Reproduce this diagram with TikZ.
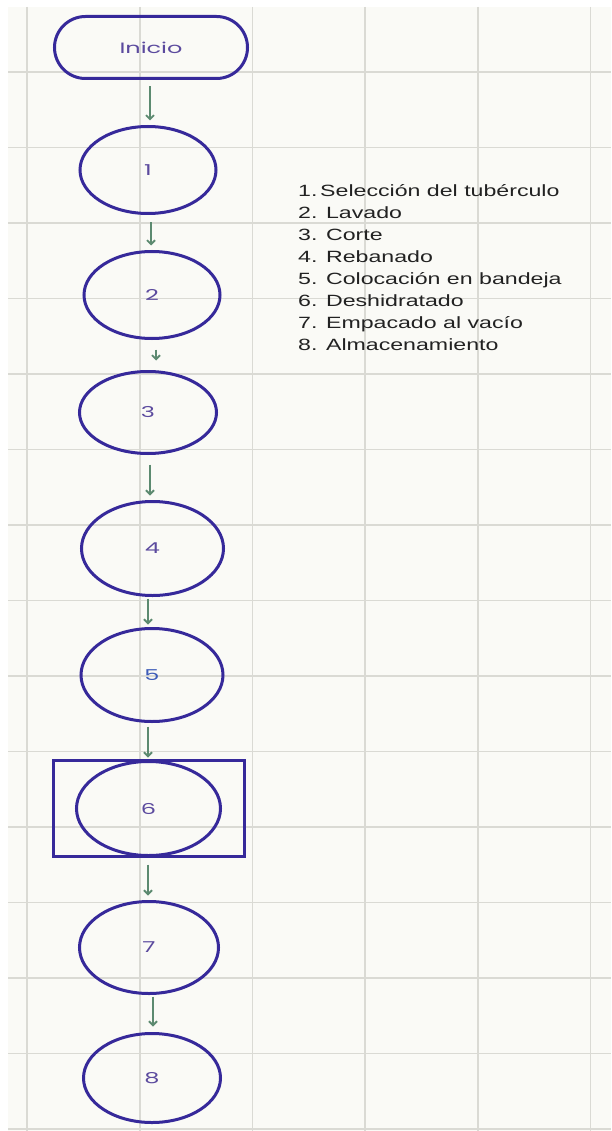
\documentclass[tikz,border=0pt]{standalone}
\usepackage{fontspec}
\setmainfont{Liberation Sans}
\newfontfamily\listfont[FakeStretch=1.42]{Liberation Sans}
\newfontfamily\lblfont[FakeStretch=1.6]{Poppins}
\usetikzlibrary{arrows.meta,shapes.geometric}
\definecolor{outl}{HTML}{36299A}
\definecolor{lblc}{HTML}{5B4A9E}
\definecolor{lblblue}{HTML}{3D5CB8}
\definecolor{arrc}{HTML}{5C8A70}
\definecolor{bgc}{HTML}{FAFAF6}
\definecolor{gridc}{HTML}{DADAD4}
\definecolor{listc}{HTML}{222222}
\begin{document}
\begin{tikzpicture}[x=1pt,y=-1pt,
  gridl/.style={draw=gridc,line width=1.2pt},
  proc/.style={ellipse,draw=outl,line width=3pt,inner sep=0pt,text=lblc,
    font=\lblfont\fontsize{15}{17}\selectfont},
  term/.style={rectangle,rounded corners=31pt,draw=outl,line width=3pt,inner sep=0pt,
    text=lblc,font=\lblfont\fontsize{15}{17}\selectfont},
  boxed/.style={rectangle,draw=outl,line width=3pt,inner sep=0pt},
  arr/.style={draw=arrc,line width=1.8pt,-{Straight Barb[length=4pt,width=8pt]}},
  item/.style={anchor=base west,inner sep=0pt,text=listc,
    font=\listfont\fontsize{16.3}{20}\selectfont}]
\useasboundingbox (0,0) rectangle (611,1131);
\fill[white] (0,0) rectangle (611,1131);
\fill[bgc] (8,7) rectangle (611,1131);
\foreach \x in {27,140,252.5,365,478,590.5}
  \draw[gridl] (\x,7) -- (\x,1131);
\foreach \k in {0,...,14}
  \draw[gridl] (8,72+75.5*\k) -- (611,72+75.5*\k);

\node[term,minimum width=193pt,minimum height=62pt] (ini) at (151,47.5) {Inicio};
\node[proc,minimum width=136pt,minimum height=87pt] (e1) at (148,170) {1};
\node[proc,minimum width=136pt,minimum height=87pt] (e2) at (152,295) {2};
\node[proc,minimum width=137pt,minimum height=82pt] (e3) at (148,412.5) {3};
\node[proc,minimum width=142pt,minimum height=94pt] (e4) at (152.5,548.5) {4};
\node[proc,minimum width=142pt,minimum height=93pt,text=lblblue] (e5) at (152,675) {5};
\node[boxed,minimum width=191pt,minimum height=96pt] (r6) at (149,808.5) {};
\node[proc,minimum width=144pt,minimum height=94pt] (e6) at (148.5,808.5) {6};
\node[proc,minimum width=139pt,minimum height=92pt] (e7) at (149,947.5) {7};
\node[proc,minimum width=137pt,minimum height=89pt] (e8) at (152,1078) {8};

\draw[arr] ([shift={(-1,6.5)}]ini.south) -- ([shift={(2,-4.5)}]e1.north);
\draw[arr] ([shift={(3,7.5)}]e1.south) -- ([shift={(-1,-4.5)}]e2.north);
\draw[arr] ([shift={(4,9.5)}]e2.south) -- ([shift={(8,-9.5)}]e3.north);
\draw[arr] ([shift={(2,9.5)}]e3.south) -- ([shift={(-2.5,-4.5)}]e4.north);
\draw[arr] ([shift={(-4.5,1.5)}]e4.south) -- ([shift={(-4,-2.5)}]e5.north);
\draw[arr] ([shift={(-4,3.5)}]e5.south) -- ([shift={(-1,-1.5)}]r6.north);
\draw[arr] ([shift={(-1,6.5)}]r6.south) -- ([shift={(-1,-4.5)}]e7.north);
\draw[arr] ([shift={(4,1.5)}]e7.south) -- ([shift={(1,-5.5)}]e8.north);

\node[item] (l1) at (298,197) {1.\,Selección del tubérculo};
\node[item] (l2) at (298,218.9) {2. Lavado};
\node[item] (l3) at (298,240.8) {3. Corte};
\node[item] (l4) at (298,262.7) {4. Rebanado};
\node[item] (l5) at (298,284.6) {5. Colocación en bandeja};
\node[item] (l6) at (298,306.5) {6. Deshidratado};
\node[item] (l7) at (298,328.4) {7. Empacado al vacío};
\node[item] (l8) at (298,350.3) {8. Almacenamiento};
\end{tikzpicture}
\end{document}
